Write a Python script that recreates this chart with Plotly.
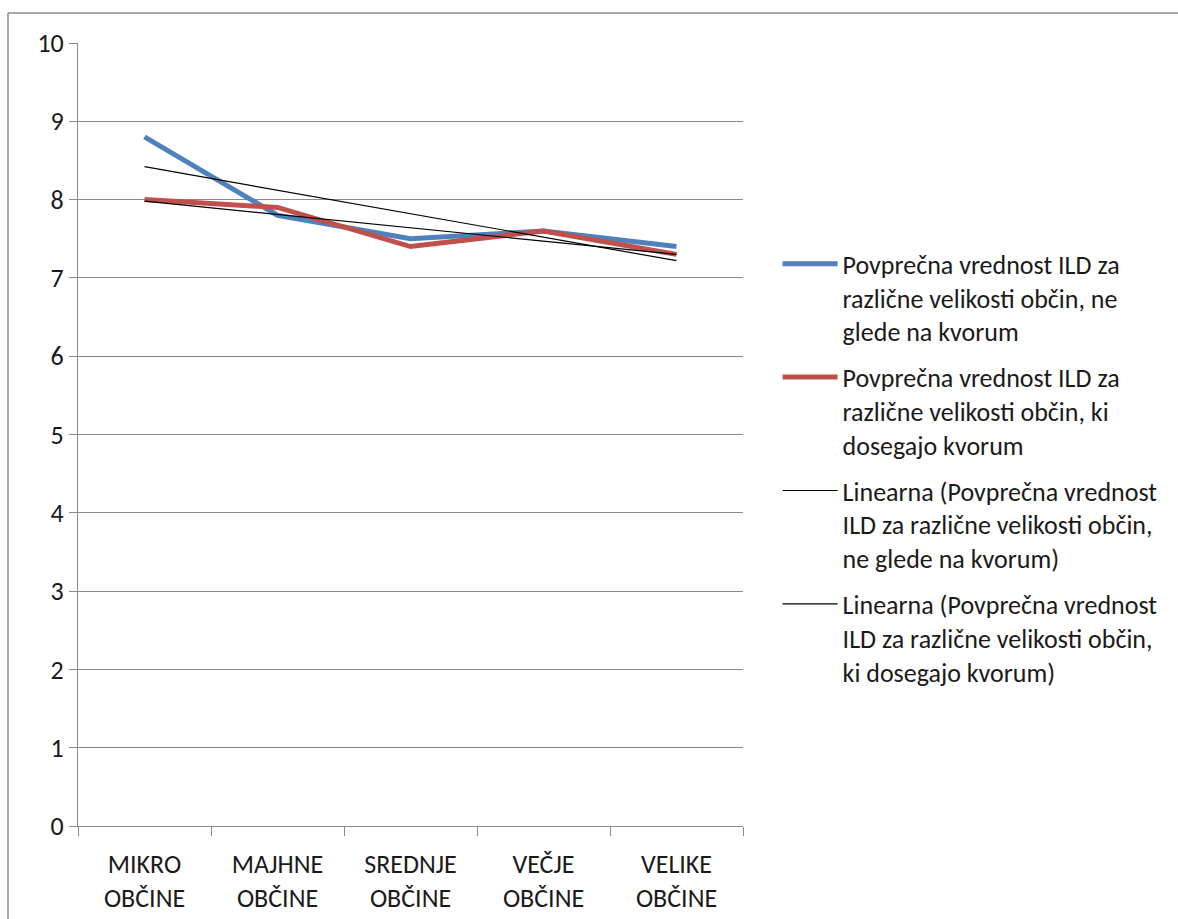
import numpy as np
import plotly.graph_objects as go

# Municipality size classes (x categories)
categories = ["MIKRO<br>OBČINE", "MAJHNE<br>OBČINE", "SREDNJE<br>OBČINE",
              "VEČJE<br>OBČINE", "VELIKE<br>OBČINE"]

# Average ILD value per size class
ild_all = [8.8, 7.8, 7.5, 7.6, 7.4]        # regardless of quorum
ild_quorum = [8.0, 7.9, 7.4, 7.6, 7.3]     # municipalities reaching quorum

name_all = "Povprečna vrednost ILD za<br>različne velikosti občin, ne<br>glede na kvorum"
name_quorum = "Povprečna vrednost ILD za<br>različne velikosti občin, ki<br>dosegajo kvorum"
name_trend_all = "Linearna (Povprečna vrednost<br>ILD za različne velikosti občin,<br>ne glede na kvorum)"
name_trend_quorum = "Linearna (Povprečna vrednost<br>ILD za različne velikosti občin,<br>ki dosegajo kvorum)"

FONT = "Carlito, Calibri, Lato, sans-serif"
TEXT = "#1a1a1a"
GRID = "#8a8a8a"
FRAME = "#8c8c8c"


def linear_trend(values):
    xs = np.arange(1, len(values) + 1)
    slope, intercept = np.polyfit(xs, values, 1)
    return list(slope * xs + intercept)


fig = go.Figure()
fig.add_trace(go.Scatter(x=categories, y=ild_all, mode="lines", name=name_all,
                         legendgroup="a", line=dict(color="#4F81BD", width=5)))
fig.add_trace(go.Scatter(x=categories, y=ild_quorum, mode="lines", name=name_quorum,
                         legendgroup="b", line=dict(color="#C0504D", width=5)))
fig.add_trace(go.Scatter(x=categories, y=linear_trend(ild_all), mode="lines",
                         name=name_trend_all, legendgroup="c",
                         line=dict(color="#000000", width=1.2)))
fig.add_trace(go.Scatter(x=categories, y=linear_trend(ild_quorum), mode="lines",
                         name=name_trend_quorum, legendgroup="d",
                         line=dict(color="#000000", width=1.2)))

# chart-area frame: only the left and top edges fall inside the page
frame_left = (8 - 78) / 665
frame_top = (826 - 13) / 783
frame_right = (1178 - 78) / 665

fig.update_layout(
    width=1178, height=919,
    margin=dict(l=78, r=435, t=43, b=93, autoexpand=False),
    paper_bgcolor="white", plot_bgcolor="white",
    font=dict(family=FONT, size=26, color=TEXT),
    showlegend=True,
    legend=dict(x=1.052, xanchor="left", y=0.748, yanchor="top",
                valign="top", tracegroupgap=9, itemwidth=55,
                bgcolor="rgba(0,0,0,0)",
                font=dict(family=FONT, size=26, color=TEXT)),
    shapes=[
        dict(type="line", xref="paper", yref="paper",
             x0=frame_left, x1=frame_left, y0=-0.2, y1=frame_top,
             line=dict(color=FRAME, width=1.5), layer="below"),
        dict(type="line", xref="paper", yref="paper",
             x0=frame_left, x1=frame_right, y0=frame_top, y1=frame_top,
             line=dict(color=FRAME, width=1.5), layer="below"),
    ],
)

fig.update_xaxes(
    type="category", range=[-0.5, 4.5], showgrid=False, automargin=False,
    showline=True, linecolor=GRID, linewidth=1,
    ticks="outside", tickson="boundaries", ticklen=9, tickcolor=GRID,
    ticklabelstandoff=15,
    tickfont=dict(family=FONT, size=26, color=TEXT),
)
fig.update_yaxes(
    range=[0, 10], dtick=1, showgrid=True, gridcolor=GRID, gridwidth=1,
    automargin=False,
    showline=True, linecolor=GRID, linewidth=1,
    ticks="outside", ticklen=8, tickcolor=GRID, zeroline=False,
    tickfont=dict(family=FONT, size=26, color=TEXT),
)

fig.write_html("out.html")
